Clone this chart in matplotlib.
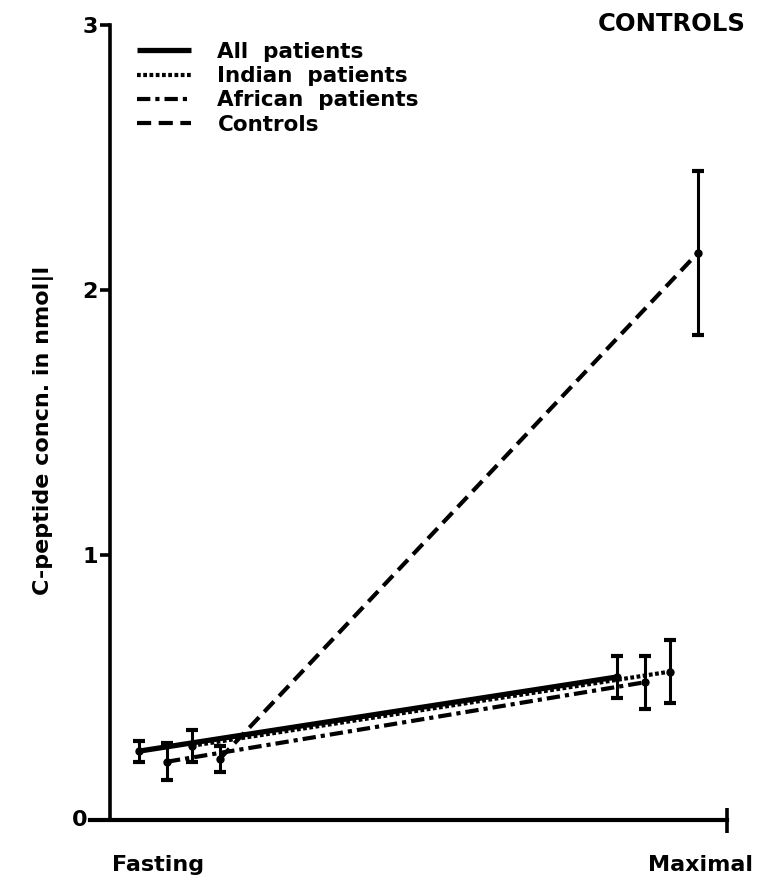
import numpy as np
import matplotlib
matplotlib.use("Agg")
import matplotlib.pyplot as plt

plt.rcParams['font.family'] = ['DejaVu Sans']
plt.rcParams['font.weight'] = 'bold'

# C-peptide, fasting vs maximal, mean +/- error per group
groups = ['All  patients', 'Indian  patients', 'African  patients', 'Controls']
stages = ['Fasting', 'Maximal']
fasting_mean = [0.26, 0.28, 0.22, 0.23]
fasting_err = [0.04, 0.06, 0.07, 0.05]
maximal_mean = [0.54, 0.56, 0.52, 2.14]
maximal_err = [0.08, 0.12, 0.10, 0.31]

# small horizontal shift so the error bars do not overlap
shift = [-0.084, 0.026, -0.026, 0.084]
styles = [
    dict(ls='-', lw=3.8),
    dict(ls=(0, (0.9, 0.6)), lw=3.0),
    dict(ls=(0, (3.2, 1.2, 1.0, 1.2)), lw=3.0),
    dict(ls=(0, (3.4, 1.8)), lw=3.0),
]

fig = plt.figure(figsize=(7.65, 8.82), dpi=100)
ax = fig.add_axes([90 / 765, 1 - 820 / 882, 637 / 765, 795 / 882])

handles = []
for i, g in enumerate(groups):
    xs = np.array([0, 1]) + shift[i]
    ys = [fasting_mean[i], maximal_mean[i]]
    es = [fasting_err[i], maximal_err[i]]
    ln, = ax.plot(xs, ys, color='black', label=g, solid_capstyle='butt',
                  dash_capstyle='butt', **styles[i])
    ax.errorbar(xs, ys, yerr=es, fmt='o', color='black', ms=5,
                elinewidth=2.2, capsize=4.5, capthick=3, clip_on=False)
    handles.append(ln)

ax.set_xlim(-0.187, 1.145)
ax.set_ylim(0, 3)

for s in ['top', 'right']:
    ax.spines[s].set_visible(False)
ax.spines['left'].set_position(('data', -0.145))
ax.spines['left'].set_linewidth(2.6)
ax.spines['bottom'].set_linewidth(3.0)

ax.set_yticks([0, 1, 2, 3])
ax.set_yticklabels(['', '1', '2', '3'], fontsize=16, fontweight='bold')
ax.tick_params(axis='y', direction='out', length=7, width=2.6, pad=2)
# the top tick crosses the axis
ax.set_yticks([3], minor=True)
ax.tick_params(axis='y', which='minor', direction='in', length=8, width=2.6)
ax.annotate('0', xy=(-0.187, 0), xytext=(-2, 0), textcoords='offset points',
            ha='right', va='center', fontsize=16, fontweight='bold',
            annotation_clip=False)

ax.set_xticks([-0.045, 1.089])
ax.set_xticklabels(stages, fontsize=16, fontweight='bold')
ax.tick_params(axis='x', length=0, pad=25)
ax.set_xticks([1.145], minor=True)
ax.tick_params(axis='x', which='minor', direction='inout', length=18, width=2.6)

ax.set_ylabel('C-peptide concn. in nmol|l', fontsize=16, fontweight='bold')
ax.yaxis.set_label_coords(-0.056, 0.49)

ax.legend(handles=handles, loc='upper left',
          bbox_to_anchor=(126 / 765, 1 - 31 / 882),
          bbox_transform=fig.transFigure, frameon=False, borderpad=0,
          handlelength=2.5, handletextpad=1.25, labelspacing=0.2,
          prop=dict(size=15.5, weight='bold'))

fig.text(598 / 765, 1 - 24 / 882, 'CONTROLS', fontsize=17.5, fontweight='bold',
         ha='left', va='center')

fig.savefig('out.png', dpi=100)
